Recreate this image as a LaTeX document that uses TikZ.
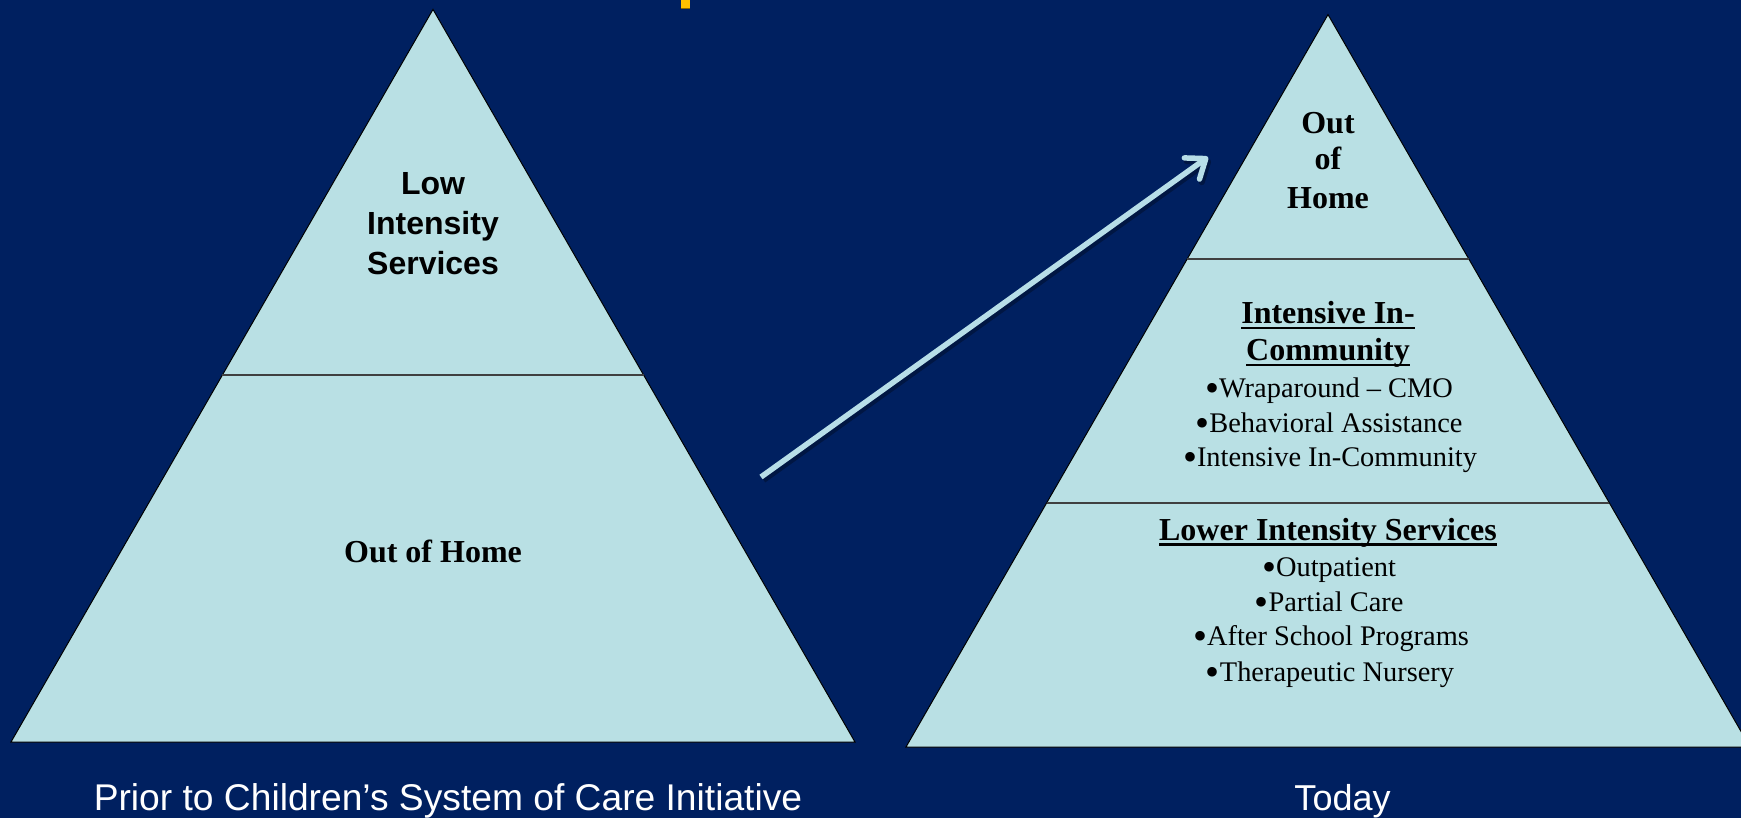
\documentclass[tikz,border=0pt]{standalone}
\usepackage{fontspec}
\setmainfont{Liberation Serif}
\newfontfamily\arialfont{Liberation Sans}
\usetikzlibrary{arrows.meta,calc}
\definecolor{navy}{RGB}{0,32,96}
\definecolor{pale}{RGB}{185,224,228}
\definecolor{gold}{RGB}{255,192,0}
\definecolor{arrowblue}{RGB}{183,222,232}
\newcommand{\myul}[1]{\setbox0\hbox{#1}\rlap{\rule[-5.5pt]{\wd0}{2.4pt}}\box0}
\newcommand{\bul}{\raisebox{-4pt}{\fontsize{40}{40}\selectfont •}}
\begin{document}
\begin{tikzpicture}[x=1pt,y=-1pt,
  tri/.style={fill=pale,draw=black,line width=1pt,line join=miter},
  divider/.style={draw=black!75,line width=1.6pt},
  lbl/.style={anchor=base,inner sep=0pt,text=black},
  sanslbl/.style={lbl,font=\arialfont\bfseries\fontsize{32}{38}\selectfont},
  headlbl/.style={lbl,font=\bfseries\fontsize{32}{38}\selectfont},
  itemlbl/.style={lbl,font=\fontsize{28.4}{34}\selectfont},
  caplbl/.style={anchor=base,inner sep=0pt,text=white,font=\arialfont\fontsize{36}{43}\selectfont},
  bigarrow/.style={draw=arrowblue,line width=5.5pt,-{Straight Barb[length=17pt,width=26pt,round]}},
  arrowshadow/.style={draw=black,opacity=0.3,line width=6pt,-{Straight Barb[length=17pt,width=26pt,round]}}
]
\fill[navy] (0,0) rectangle (1741,818);
\useasboundingbox (0,0) rectangle (1741,818);
% cut-off title remnant
\fill[gold] (681,0) rectangle (689.5,8.3);
\draw[gold!55!black,line width=0.8pt] (681,8) -- (689.5,8);

% left pyramid
\coordinate (LA) at (433,9.4);
\coordinate (LL) at (11,742);
\coordinate (LR) at (855,742);
\draw[tri] (LA) -- (LL) -- (LR) -- cycle;
\draw[divider] ($(LA)!0.4993!(LL)$) -- ($(LA)!0.4993!(LR)$);

% right pyramid
\coordinate (RA) at (1328,14.6);
\coordinate (RL) at (906,747);
\coordinate (RR) at (1750,747);
\draw[tri] (RA) -- (RL) -- (RR) -- cycle;
\draw[divider] ($(RA)!0.3333!(RL)$) -- ($(RA)!0.3333!(RR)$);
\draw[divider] ($(RA)!0.6669!(RL)$) -- ($(RA)!0.6669!(RR)$);

% left texts
\node[sanslbl] (low1) at (433,195) {Low};
\node[sanslbl] (low2) at (433,234.5) {Intensity};
\node[sanslbl] (low3) at (433,275) {Services};
\node[headlbl] (ooh) at (433,562) {Out of Home};

% right texts
\node[headlbl] (out1) at (1328,133.5) {Out};
\node[headlbl] (out2) at (1328,170) {of};
\node[headlbl] (out3) at (1328,209) {Home};

\node[headlbl] (ic1) at (1328,324) {\myul{Intensive In-}};
\node[headlbl] (ic2) at (1328,361) {\myul{Community}};
\node[itemlbl] (ic3) at (1329,397) {\bul Wraparound – CMO};
\node[itemlbl] (ic4) at (1329,432) {\bul Behavioral Assistance};
\node[itemlbl] (ic5) at (1330,466) {\bul Intensive In-Community};

\node[headlbl] (li1) at (1328,540) {\myul{Lower Intensity Services}};
\node[itemlbl] (li2) at (1329,576) {\bul Outpatient};
\node[itemlbl] (li3) at (1329,611) {\bul Partial Care};
\node[itemlbl] (li4) at (1331,645) {\bul After School Programs};
\node[itemlbl] (li5) at (1330,681) {\bul Therapeutic Nursery};

% captions
\node[caplbl,font=\arialfont\fontsize{37.2}{44}\selectfont] (cap1) at (448,810) {Prior to Children’s System of Care Initiative};
\node[caplbl] (cap2) at (1342.5,810) {Today};

% arrow
\coordinate (atail) at (761,477);
\coordinate (ahead) at (1208,157);
\draw[arrowshadow] ([shift={(2.5,3)}]atail) -- ([shift={(2.5,3)}]ahead);
\draw[bigarrow] (atail) -- (ahead);
\end{tikzpicture}
\end{document}
